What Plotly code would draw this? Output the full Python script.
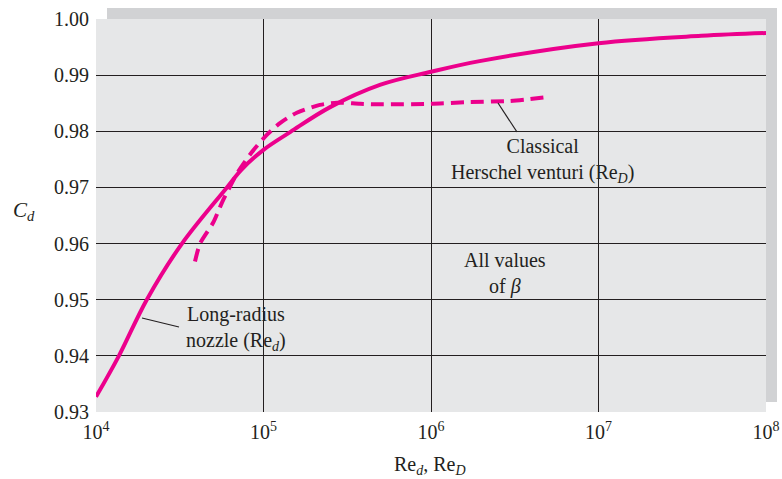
import plotly.graph_objects as go

# Long-radius nozzle (Re_d)
re_nozzle = [1.0e4, 1.37e4, 2.01e4, 3.26e4, 6.05e4, 7.35e4, 1.0e5, 1.45e5, 2.5e5,
             5.0e5, 1.0e6, 1.95e6, 1.0e7, 4.1e7, 1.0e8]
cd_nozzle = [0.9327, 0.940, 0.950, 0.960, 0.970, 0.9731, 0.9767, 0.9799, 0.9843,
             0.9883, 0.9906, 0.9925, 0.9957, 0.9970, 0.9975]

# Classical Herschel venturi (Re_D)
re_venturi = [3.9e4, 4.18e4, 5.0e4, 5.65e4, 6.3e4, 7.05e4, 8.53e4, 1.05e5, 1.26e5,
              1.58e5, 2.17e5, 2.75e5, 3.77e5, 5.0e5, 1.0e6, 1.7e6, 2.95e6, 5.0e6]
cd_venturi = [0.9568, 0.9600, 0.9637, 0.9673, 0.9701, 0.9728, 0.9763, 0.9794, 0.9815,
              0.9833, 0.9847, 0.9851, 0.9849, 0.9848, 0.9849, 0.9852, 0.9854, 0.9861]

x_ticks = [1e4, 1e5, 1e6, 1e7, 1e8]
x_tick_labels = ["10<sup>4</sup>", "10<sup>5</sup>", "10<sup>6</sup>", "10<sup>7</sup>", "10<sup>8</sup>"]
y_ticks = [0.93, 0.94, 0.95, 0.96, 0.97, 0.98, 0.99, 1.00]

MAG = "#ec008c"
INK = "#231f20"
FONT = "Liberation Serif"

W, H = 782, 479
L, R, T, B = 96, 16, 19, 67
PW, PH = W - L - R, H - T - B


def px(xp):
    return (xp - L) / PW


def py(yp):
    return (H - B - yp) / PH


fig = go.Figure()
fig.add_trace(go.Scatter(x=re_nozzle, y=cd_nozzle, mode="lines",
                         line=dict(color=MAG, width=4, shape="spline", smoothing=1.0),
                         showlegend=False, hoverinfo="skip"))
fig.add_trace(go.Scatter(x=re_venturi, y=cd_venturi, mode="lines",
                         line=dict(color=MAG, width=4, dash="13px,7px", shape="spline", smoothing=0.7),
                         showlegend=False, hoverinfo="skip"))

shapes = [
    # shadow
    dict(type="rect", xref="paper", yref="paper", x0=px(107), x1=px(777), y0=py(402), y1=py(8),
         fillcolor="#d1d2d4", line=dict(width=0), layer="below"),
    # plot area
    dict(type="rect", xref="paper", yref="paper", x0=0, x1=1, y0=0, y1=1,
         fillcolor="#e6e7e8", line=dict(width=0), layer="below"),
    # leader lines
    dict(type="line", xref="paper", yref="paper", x0=px(142), y0=py(318), x1=px(179), y1=py(327),
         line=dict(color=INK, width=1.2)),
    dict(type="line", xref="paper", yref="paper", x0=px(498), y0=py(103), x1=px(517), y1=py(132),
         line=dict(color=INK, width=1.2)),
]


def note(text, xp, yp, size=20):
    return dict(text=text, x=px(xp), y=py(yp), xref="paper", yref="paper",
                xanchor="center", yanchor="middle", showarrow=False, align="center",
                font=dict(family=FONT, size=size, color=INK))


annotations = [
    note("Long-radius<br>nozzle (Re<sub><i>d</i></sub>)", 236, 328),
    note("Classical<br>Herschel venturi (Re<sub><i>D</i></sub>)", 542, 160),
    note("All values<br>of <i>β</i>", 505, 273),
    note("<i>C<sub>d</sub></i>", 24, 211, 21),
    note("Re<sub><i>d</i></sub>, Re<sub><i>D</i></sub>", 430, 465),
]

fig.update_layout(
    width=W, height=H,
    margin=dict(l=L, r=R, t=T, b=B, pad=0, autoexpand=False),
    paper_bgcolor="white",
    plot_bgcolor="rgba(0,0,0,0)",
    shapes=shapes,
    annotations=annotations,
    showlegend=False,
    font=dict(family=FONT, size=20, color=INK),
)

fig.update_xaxes(type="log", range=[4, 8], tickvals=x_ticks, ticktext=x_tick_labels,
                 showgrid=True, gridcolor=INK, gridwidth=1.3, zeroline=False, showline=False,
                 automargin=False,
                 ticks="", ticklabelstandoff=6, tickfont=dict(family=FONT, size=20, color=INK))
fig.update_yaxes(range=[0.93, 1.00], tickvals=y_ticks, tickformat=".2f",
                 showgrid=True, gridcolor=INK, gridwidth=1.3, zeroline=False, showline=False,
                 automargin=False,
                 ticks="", ticklabelstandoff=6, tickfont=dict(family=FONT, size=20, color=INK))

fig.write_html("out.html", config={"displayModeBar": False},
               post_script="document.body.style.margin='0';document.body.style.overflow='hidden';")
